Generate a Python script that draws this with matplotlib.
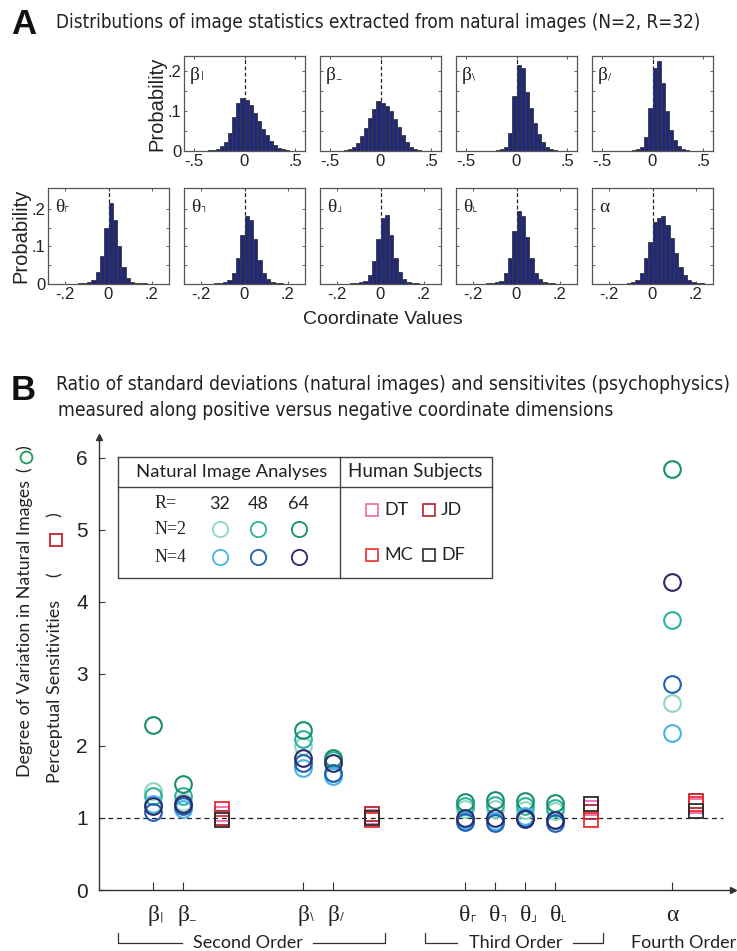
import numpy as np
import matplotlib
matplotlib.use('Agg')
import matplotlib.pyplot as plt
from matplotlib import font_manager

W, H = 737, 951

# ---------------- panel A data (bar heights) ----------------
top_centers = [-0.42, -0.38, -0.34, -0.30, -0.26, -0.22, -0.18, -0.14, -0.10, -0.06, -0.02,
               0.02, 0.06, 0.10, 0.14, 0.18, 0.22, 0.26, 0.30, 0.34, 0.38, 0.42]
beta_vert = [0, 0.001, 0.002, 0.003, 0.006, 0.012, 0.022, 0.045, 0.086, 0.119, 0.133,
             0.127, 0.115, 0.095, 0.075, 0.056, 0.039, 0.025, 0.015, 0.008, 0.004, 0.002]
beta_horiz = [0, 0.001, 0.002, 0.004, 0.010, 0.020, 0.037, 0.058, 0.083, 0.104, 0.125,
              0.119, 0.113, 0.100, 0.080, 0.060, 0.040, 0.022, 0.011, 0.005, 0.002, 0.001]
beta_back = [0, 0, 0, 0, 0.001, 0.001, 0.002, 0.004, 0.011, 0.046, 0.137,
             0.215, 0.207, 0.148, 0.107, 0.070, 0.042, 0.023, 0.011, 0.005, 0.002, 0.001]
beta_fwd = [0, 0, 0, 0, 0, 0, 0.002, 0.004, 0.011, 0.036, 0.108,
            0.207, 0.226, 0.169, 0.101, 0.052, 0.028, 0.013, 0.006, 0.003, 0.001, 0]

bot_centers = [-0.27, -0.25, -0.23, -0.21, -0.19, -0.17, -0.15, -0.13, -0.11, -0.09, -0.07,
               -0.05, -0.03, -0.01, 0.01, 0.03, 0.05, 0.07, 0.09, 0.11, 0.13, 0.15,
               0.17, 0.19, 0.21, 0.23, 0.25, 0.27]
theta_tl = [0, 0, 0, 0, 0, 0, 0.001, 0.002, 0.003, 0.005, 0.011, 0.033, 0.075, 0.150,
            0.215, 0.170, 0.100, 0.046, 0.016, 0.006, 0.003, 0.002, 0.002, 0.001, 0.001, 0, 0, 0]
theta_tr = [0, 0, 0, 0, 0, 0, 0.001, 0.002, 0.003, 0.004, 0.010, 0.030, 0.070, 0.130,
            0.180, 0.170, 0.120, 0.065, 0.030, 0.012, 0.005, 0.003, 0.002, 0.001, 0.001, 0, 0, 0]
theta_br = [0, 0, 0, 0, 0, 0, 0.001, 0.002, 0.003, 0.004, 0.009, 0.025, 0.060, 0.120,
            0.175, 0.185, 0.130, 0.070, 0.032, 0.012, 0.005, 0.003, 0.002, 0.001, 0.001, 0, 0, 0]
theta_bl = [0, 0, 0, 0, 0, 0, 0.001, 0.002, 0.003, 0.004, 0.009, 0.028, 0.068, 0.140,
            0.195, 0.180, 0.125, 0.068, 0.030, 0.012, 0.005, 0.003, 0.002, 0.001, 0.001, 0, 0, 0]
alpha_h = [0, 0, 0, 0, 0, 0, 0, 0, 0.002, 0.006, 0.011, 0.028, 0.068, 0.113,
           0.166, 0.175, 0.180, 0.157, 0.122, 0.082, 0.046, 0.024, 0.011, 0.005, 0.003, 0.002, 0.001, 0]

top_hists = [beta_vert, beta_horiz, beta_back, beta_fwd]
bot_hists = [theta_tl, theta_tr, theta_br, theta_bl, alpha_h]

top_labels = [('β', '|'), ('β', '_'), ('β', '\\'), ('β', '/')]
bot_labels = [('θ', '┌'), ('θ', '┐'), ('θ', '┘'), ('θ', '└'), ('α', '')]

# ---------------- panel B data ----------------
cat_labels = [('β', '|'), ('β', '_'), ('β', '\\'), ('β', '/'),
              ('θ', '┌'), ('θ', '┐'), ('θ', '┘'), ('θ', '└'), ('α', '')]
cat_x = [0, 1, 5, 6, 10.4, 11.4, 12.4, 13.4, 17.3]
subj_x = [2.3, 7.3, 14.6, 18.1]

n2_r32 = [1.37, 1.22, 2.00, 1.62, 1.12, 1.12, 1.11, 1.10, 2.60]
n2_r48 = [1.30, 1.30, 2.10, 1.80, 1.16, 1.18, 1.17, 1.14, 3.75]
n2_r64 = [2.29, 1.47, 2.22, 1.83, 1.22, 1.25, 1.24, 1.21, 5.85]
n4_r32 = [1.20, 1.13, 1.70, 1.58, 0.97, 0.96, 1.03, 0.97, 2.18]
n4_r48 = [1.08, 1.17, 1.77, 1.63, 0.95, 0.93, 1.00, 0.93, 2.86]
n4_r64 = [1.17, 1.19, 1.83, 1.77, 1.00, 1.00, 0.98, 0.97, 4.27]

subj_dt = [1.05, 1.02, 1.14, 1.17]
subj_jd = [1.00, 1.05, 1.08, 1.23]
subj_mc = [1.12, 0.97, 0.97, 1.20]
subj_df = [0.97, 1.00, 1.20, 1.10]

circle_series = [(n2_r32, '#8fd6c1'), (n2_r48, '#2cb39b'), (n2_r64, '#168f6d'),
                 (n4_r32, '#46b3e8'), (n4_r48, '#2060b4'), (n4_r64, '#2a2a6c')]
square_series = [(subj_dt, '#f268a6'), (subj_jd, '#b3242e'), (subj_mc, '#ec2a30'), (subj_df, '#2b2b2b')]

HIST_FACE = '#21287a'
SANS = 'Liberation Sans'
HUMAN = 'Lato'
SERIF = 'Liberation Serif'
TXT = '#222222'

# a condensed face for the panel titles if one is installed
installed = {(f.name, f.stretch) for f in font_manager.fontManager.ttflist}
if any(n == 'Liberation Sans Narrow' for n, s in installed):
    TITLE_KW = dict(family='Liberation Sans Narrow')
elif ('DejaVu Sans', 'condensed') in installed or ('DejaVu Sans', 'semi-condensed') in installed:
    TITLE_KW = dict(family='DejaVu Sans', stretch='condensed')
else:
    TITLE_KW = dict(family=SANS)

fig = plt.figure(figsize=(W / 100, H / 100), dpi=100)
renderer = fig.canvas.get_renderer()


def add_ax(x0, y0, x1, y1):
    return fig.add_axes([x0 / W, 1 - y1 / H, (x1 - x0) / W, (y1 - y0) / H])


def fit(t, target, vertical=False):
    # scale font so the text spans target pixels
    bb = t.get_window_extent(renderer=renderer)
    span = bb.height if vertical else bb.width
    t.set_fontsize(t.get_fontsize() * target / span)
    return t.get_fontsize()


# overlay in pixel coords for free text
ov = fig.add_axes([0, 0, 1, 1], zorder=10)
ov.set_xlim(0, W)
ov.set_ylim(H, 0)
ov.axis('off')

SUB_SHIFT = {'|': (0, -0.18), '_': (0, -0.25), '\\': (0, -0.08), '/': (0, -0.08),
             '┌': (-0.28, -0.22), '┐': (0, -0.22), '┘': (0, 0.33), '└': (-0.28, 0.33)}


def sym(x, y, base, sub, size, sub_size, center=False):
    # greek letter with a small sign as subscript
    t = ov.text(x, y, base, fontsize=size, family=SERIF, ha='center' if center else 'left',
                va='baseline', color=TXT)
    if not sub:
        return
    bb = t.get_window_extent(renderer=renderer)
    bw = bb.width
    x_end = x + (bw / 2 if center else bw)
    em = sub_size * 100 / 72.0
    dx, dy = SUB_SHIFT[sub]
    ov.text(x_end + 0.5 + dx * em, y + dy * em, sub, fontsize=sub_size, family='DejaVu Sans',
            ha='left', va='baseline', color=TXT)


def hist_axes(ax, centers, vals, width, xlim, ylim, xticks, xtl):
    ax.bar(centers, vals, width=width, color=HIST_FACE, edgecolor='#3a3a3a', linewidth=0.6)
    ax.axvline(0, color=TXT, ls=(0, (3, 2)), lw=0.9, zorder=0.5)
    ax.set_xlim(*xlim)
    ax.set_ylim(*ylim)
    ax.set_xticks(xticks)
    ax.set_xticklabels(xtl, fontsize=12, family=SANS)
    ax.set_yticks([0, 0.05, 0.1, 0.15, 0.2])
    ax.set_yticklabels([])
    ax.tick_params(direction='in', length=2.5, width=0.6, top=True, right=True, pad=2, colors='#444',
                   labelcolor=TXT)
    for s in ax.spines.values():
        s.set_color('#555')
        s.set_linewidth(0.9)


# ---------------- panel A ----------------
ov.text(11, 24, 'A', fontsize=25, family=SANS, weight='bold', va='center', ha='left', color='#111')
tA = ov.text(56, 22, 'Distributions of image statistics extracted from natural images (N=2, R=32)',
             fontsize=13, va='center', ha='left', color=TXT, **TITLE_KW)
fit(tA, 644)

for i, vals in enumerate(top_hists):
    x0 = 184 + 136 * i
    ax = add_ax(x0, 56, x0 + 121, 151)
    hist_axes(ax, top_centers, vals, 0.04, (-0.6, 0.6), (0, 0.2375), [-0.5, 0, 0.5], ['-.5', '0', '.5'])
    if i == 0:
        ax.set_yticklabels(['0', '', '.1', '', '.2'], fontsize=12, family=SANS)
        ax.set_ylabel('Probability', fontsize=14.5, family=SANS, labelpad=1, color=TXT)
    b, s = top_labels[i]
    sym(x0 + 6, 80, b, s, 14, 6.5)

for i, vals in enumerate(bot_hists):
    x0 = 48 + 136 * i
    ax = add_ax(x0, 188, x0 + 121, 284)
    hist_axes(ax, bot_centers, vals, 0.02, (-0.28, 0.28), (0, 0.256), [-0.2, 0, 0.2], ['-.2', '0', '.2'])
    if i == 0:
        ax.set_yticklabels(['0', '', '.1', '', '.2'], fontsize=12, family=SANS)
        ax.set_ylabel('Probability', fontsize=14.5, family=SANS, labelpad=1, color=TXT)
    b, s = bot_labels[i]
    sym(x0 + 7, 212, b, s, 14, 6.5)

ov.text(383, 319, 'Coordinate Values', fontsize=14, family=SANS, ha='center', va='center', color=TXT)

# ---------------- panel B ----------------
ov.text(11, 391, 'B', fontsize=25, family=SANS, weight='bold', va='center', ha='left', color='#111')
tB1 = ov.text(56, 385, 'Ratio of standard deviations (natural images) and sensitivites (psychophysics)',
              fontsize=13, va='center', ha='left', color=TXT, **TITLE_KW)
fsB = fit(tB1, 676)
tB2 = ov.text(58, 410, 'measured along positive versus negative coordinate dimensions',
              fontsize=fsB, va='center', ha='left', color=TXT, **TITLE_KW)

axB = add_ax(99, 437, 733, 890)
axB.set_xlim(-1.8, 19.33)
axB.set_ylim(0, 6.29)
for side in ['top', 'right']:
    axB.spines[side].set_visible(False)
for side in ['left', 'bottom']:
    axB.spines[side].set_color('#333')
    axB.spines[side].set_linewidth(1.0)
axB.plot(0, 1, '^', color='#333', ms=5, transform=axB.transAxes, clip_on=False)
axB.plot(1, 0, '>', color='#333', ms=5, transform=axB.transAxes, clip_on=False)
axB.set_yticks([0, 1, 2, 3, 4, 5, 6])
axB.set_yticklabels(['0', '1', '2', '3', '4', '5', '6'], fontsize=15, family=SANS, color=TXT)
axB.set_xticks(cat_x)
axB.set_xticklabels([])
axB.tick_params(axis='y', direction='in', length=4.5, width=0.8, pad=8, colors='#333', labelcolor=TXT)
axB.tick_params(axis='x', direction='in', length=6, width=0.8, colors='#333')
axB.plot([-1.8, 19.0], [1, 1], color=TXT, ls=(0, (4, 3)), lw=0.9, zorder=1)

for vals, col in circle_series:
    axB.plot(cat_x, vals, 'o', ms=12, mfc='none', mec=col, mew=1.5, ls='none', zorder=3)
for vals, col in square_series:
    axB.plot(subj_x, vals, 's', ms=10, mfc='none', mec=col, mew=1.3, ls='none', zorder=3)

# category labels under the axis
for (b, s), cx in zip(cat_labels, cat_x):
    px = axB.transData.transform((cx, 0))[0]
    sym(px, 921, b, s, 17, 8, center=True)


# group brackets
def bracket(x0, x1, t0, t1, y=943):
    ov.plot([x0, x0, t0], [y - 10, y, y], color='#333', lw=0.9)
    ov.plot([t1, x1, x1], [y, y, y - 10], color='#333', lw=0.9)


bracket(118, 385, 182, 313)
bracket(425, 603, 457, 573)
ov.text(248, 943, 'Second Order', fontsize=13, family=HUMAN, ha='center', va='center', color=TXT)
ov.text(516, 943, 'Third Order', fontsize=13, family=HUMAN, ha='center', va='center', color=TXT)
ov.text(684, 943, 'Fourth Order', fontsize=13, family=HUMAN, ha='center', va='center', color=TXT)

# y label: two rotated lines, each with its marker in brackets
yl1 = ov.text(25, 777, 'Degree of Variation in Natural Images', rotation=90, fontsize=14, family=HUMAN,
              ha='center', va='bottom', color=TXT)
fsY = fit(yl1, 297, vertical=True)
ov.text(25, 472, '(', rotation=90, fontsize=fsY, family=HUMAN, ha='center', va='bottom', color=TXT)
ov.plot(26, 457, 'o', ms=8.5, mfc='none', mec='#1e9a62', mew=1.3)
ov.text(25, 450, ')', rotation=90, fontsize=fsY, family=HUMAN, ha='center', va='bottom', color=TXT)
ov.text(55, 783, 'Perceptual Sensitivities', rotation=90, fontsize=fsY, family=HUMAN,
        ha='center', va='bottom', color=TXT)
ov.text(55, 577, '(', rotation=90, fontsize=fsY, family=HUMAN, ha='center', va='bottom', color=TXT)
ov.plot(56, 540, 's', ms=8, mfc='none', mec='#c8202f', mew=1.3)
ov.text(55, 517, ')', rotation=90, fontsize=fsY, family=HUMAN, ha='center', va='bottom', color=TXT)

# legend table
ov.plot([118, 492, 492, 118, 118], [457, 457, 578, 578, 457], color='#444', lw=1.0)
ov.plot([118, 492], [487, 487], color='#444', lw=1.0)
ov.plot([340, 340], [457, 578], color='#444', lw=1.0)
ov.text(232, 472, 'Natural Image Analyses', fontsize=13.3, family=HUMAN, ha='center', va='center', color=TXT)
ov.text(415, 472, 'Human Subjects', fontsize=13.5, family=HUMAN, ha='center', va='center', color=TXT)
ov.text(155, 503, 'R=', fontsize=13, family=SERIF, ha='left', va='center', color=TXT)
ov.text(155, 530, 'N=2', fontsize=13, family=SERIF, ha='left', va='center', color=TXT)
ov.text(155, 557, 'N=4', fontsize=13, family=SERIF, ha='left', va='center', color=TXT)
leg_x = [220, 258, 299]
for lx, rtxt in zip(leg_x, ['32', '48', '64']):
    ov.text(lx, 504, rtxt, fontsize=13, family=HUMAN, ha='center', va='center', color=TXT)
for k, (vals, col) in enumerate(circle_series):
    ov.plot(leg_x[k % 3], 529 if k < 3 else 557, 'o', ms=11, mfc='none', mec=col, mew=1.3)
subj_names = ['DT', 'JD', 'MC', 'DF']
subj_pos = [(372, 510), (429, 510), (372, 555), (429, 555)]
for (vals, col), name, (sx, sy) in zip(square_series, subj_names, subj_pos):
    ov.plot(sx, sy, 's', ms=9, mfc='none', mec=col, mew=1.2)
    ov.text(sx + 12, sy, name, fontsize=13, family=HUMAN, ha='left', va='center', color=TXT)

fig.savefig('out.png', dpi=100)
